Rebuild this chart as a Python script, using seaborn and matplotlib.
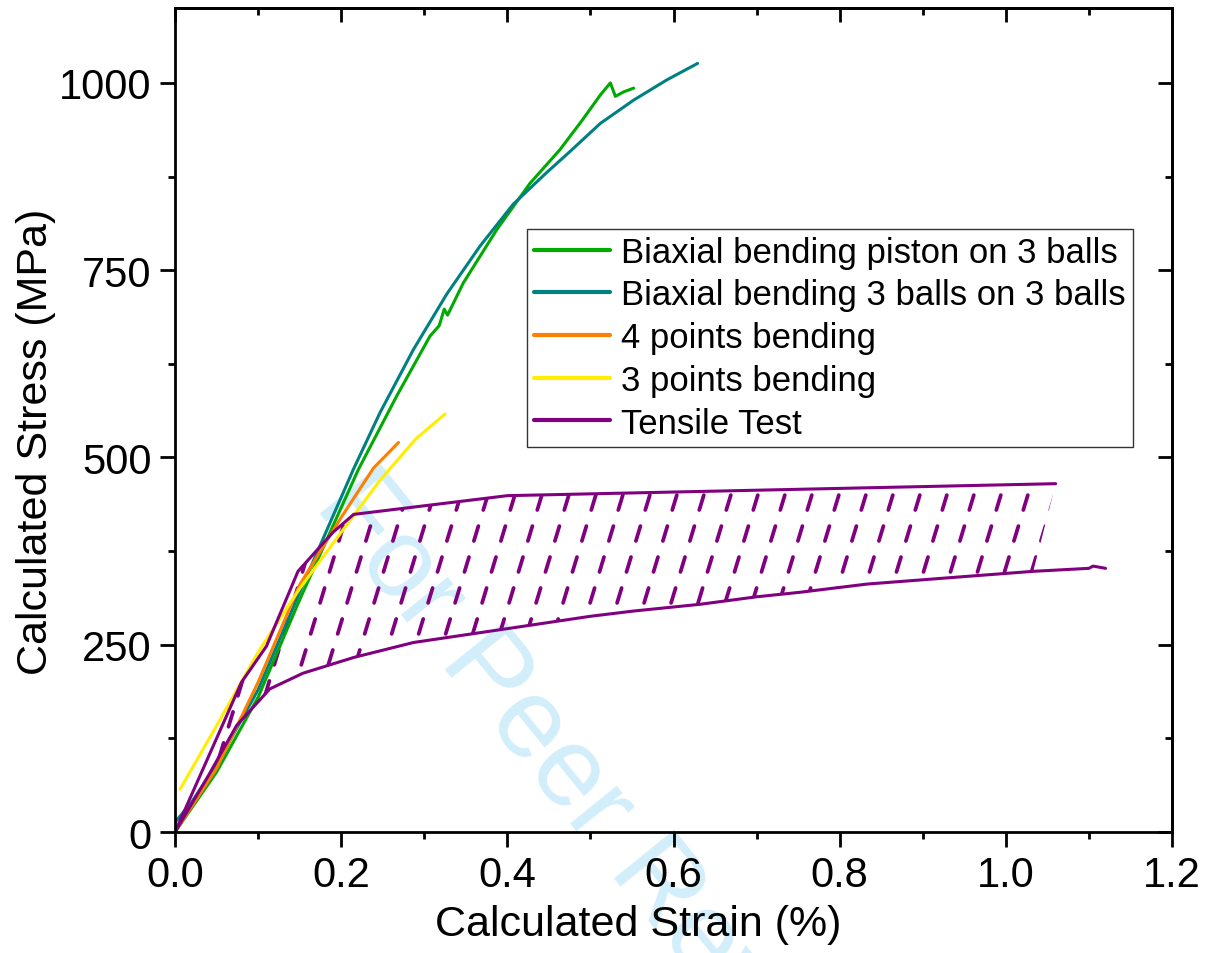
import numpy as np
import matplotlib
matplotlib.use("Agg")
import matplotlib.pyplot as plt
from matplotlib.patches import Polygon
from matplotlib.ticker import MultipleLocator, FormatStrFormatter
import seaborn as sns

# ---------------------------------------------------------------------------
# Data (strain in %, stress in MPa)
# ---------------------------------------------------------------------------
piston_x = [0.0, 0.05, 0.10, 0.15, 0.2207, 0.2668, 0.3069, 0.318, 0.324, 0.328,
            0.347, 0.3872, 0.4273, 0.4634, 0.49, 0.512, 0.524, 0.530, 0.540, 0.552]
piston_y = [0, 80, 180, 310, 484, 582, 662, 676, 698, 690,
            733, 804, 866, 911, 950, 984, 1000, 982, 988, 993]

balls_x = [0.0, 0.02, 0.05, 0.10, 0.15, 0.2146, 0.2468, 0.2869, 0.327, 0.367,
           0.407, 0.447, 0.475, 0.512, 0.552, 0.592, 0.629]
balls_y = [13, 40, 90, 190, 320, 484, 560, 644, 718, 782,
           838, 880, 908, 946, 977, 1004, 1026]

four_pt_x = [0.0, 0.05, 0.10, 0.15, 0.20, 0.239, 0.269]
four_pt_y = [0, 85, 200, 330, 420, 486, 520]

three_pt_x = [0.006, 0.05, 0.10, 0.15, 0.20, 0.247, 0.29, 0.325]
three_pt_y = [57, 142, 240, 325, 400, 470, 525, 558]

tensile_hi_x = [0.0, 0.08, 0.11, 0.148, 0.19, 0.215, 0.40, 1.06]
tensile_hi_y = [0, 200, 248, 348, 400, 424, 449, 465]

tensile_lo_x = [0.0, 0.04, 0.074, 0.114, 0.154, 0.215, 0.287, 0.403, 0.50,
                0.552, 0.632, 0.70, 0.752, 0.833, 0.95, 1.033, 1.10, 1.105, 1.12]
tensile_lo_y = [0, 75, 142, 191, 212, 233, 253, 272, 288,
                295, 304, 314, 320, 331, 341, 348, 352, 355, 352]

series = [
    ("Biaxial bending piston on 3 balls", piston_x, piston_y, "#00aa00"),
    ("Biaxial bending 3 balls on 3 balls", balls_x, balls_y, "#008080"),
    ("4 points bending", four_pt_x, four_pt_y, "#ff7f00"),
    ("3 points bending", three_pt_x, three_pt_y, "#ffee00"),
]
PURPLE = "#800080"

# ---------------------------------------------------------------------------
# Style
# ---------------------------------------------------------------------------
sns.set_theme(style="ticks")
plt.rcParams.update({
    "font.family": ["Liberation Sans", "DejaVu Sans"],
    "lines.scale_dashes": False,
    "text.color": "black",
    "axes.labelcolor": "black",
    "axes.edgecolor": "black",
    "xtick.color": "black",
    "ytick.color": "black",
})

fig = plt.figure(figsize=(12.13, 9.54), dpi=100)
ax = fig.add_axes([0.1443, 0.1268, 0.8219, 0.8638])
ax.patch.set_visible(False)

# watermark (behind everything)
ax.text(0.494, 0.147, "For Peer Review", transform=fig.transFigure,
        rotation=-51, rotation_mode="anchor", ha="center", va="center",
        fontsize=81, color="#d3eefb", zorder=0.5, clip_on=False)

for label, xs, ys, color in series:
    sns.lineplot(x=xs, y=ys, ax=ax, color=color, lw=2.2, sort=False,
                 estimator=None, label=label)

sns.lineplot(x=tensile_hi_x, y=tensile_hi_y, ax=ax, color=PURPLE, lw=2.2,
             sort=False, estimator=None, label="Tensile Test")
sns.lineplot(x=tensile_lo_x, y=tensile_lo_y, ax=ax, color=PURPLE, lw=2.2,
             sort=False, estimator=None)

# dashed hatch between the two tensile curves
lo_keep = [(x, y) for x, y in zip(tensile_lo_x, tensile_lo_y) if x <= 1.06]
verts = list(zip(tensile_hi_x, tensile_hi_y)) + lo_keep[::-1]
region = Polygon(verts, closed=True, facecolor="none", edgecolor="none",
                 transform=ax.transData)
ax.add_patch(region)
slope = 3655.0
for x0 in np.arange(-0.3316, 1.1, 0.0325):
    ln, = ax.plot([x0, x0 + 1100 / slope], [0, 1100], color=PURPLE, lw=2.7,
                  linestyle=(14.0, (11.2, 12.1)), dash_capstyle="round",
                  zorder=1.8)
    ln.set_clip_path(region)

ax.set_xlim(0, 1.2)
ax.set_ylim(0, 1100)
ax.xaxis.set_major_locator(MultipleLocator(0.2))
ax.xaxis.set_minor_locator(MultipleLocator(0.1))
ax.yaxis.set_major_locator(MultipleLocator(250))
ax.yaxis.set_minor_locator(MultipleLocator(125))
ax.xaxis.set_major_formatter(FormatStrFormatter("%.1f"))

for sp in ax.spines.values():
    sp.set_linewidth(2)
    sp.set_color("black")
ax.tick_params(which="major", direction="out", length=10.8, width=2,
               labelsize=30, pad=6)
ax.tick_params(which="minor", direction="out", length=5, width=2)

# mirrored ticks pointing inward on top and right
top = ax.secondary_xaxis("top")
top.xaxis.set_major_locator(MultipleLocator(0.2))
top.xaxis.set_minor_locator(MultipleLocator(0.1))
top.tick_params(which="major", direction="in", length=10, width=2, labeltop=False)
top.tick_params(which="minor", direction="in", length=5, width=2)
right = ax.secondary_yaxis("right")
right.yaxis.set_major_locator(MultipleLocator(250))
right.yaxis.set_minor_locator(MultipleLocator(125))
right.tick_params(which="major", direction="in", length=10, width=2, labelright=False)
right.tick_params(which="minor", direction="in", length=5, width=2)
for sec in (top, right):
    for sp in sec.spines.values():
        sp.set_linewidth(2)
        sp.set_color("black")

ax.set_xlabel("Calculated Strain (%)", fontsize=31, va="center")
ax.xaxis.set_label_coords(0.4644, -0.1115)
ax.set_ylabel("Calculated Stress (MPa)", fontsize=31, va="center")
ax.yaxis.set_label_coords(-0.1394, 0.4752)

leg = ax.legend(loc="upper left", bbox_to_anchor=(0.353, 0.732),
                borderaxespad=0, fontsize=25, handlelength=2.2,
                handletextpad=0.32, labelspacing=0.28, borderpad=0.2,
                fancybox=False, framealpha=1, edgecolor="#333333")
leg.get_frame().set_linewidth(1)
for h in leg.get_lines():
    h.set_linewidth(3)

fig.savefig("out.png", dpi=100)
